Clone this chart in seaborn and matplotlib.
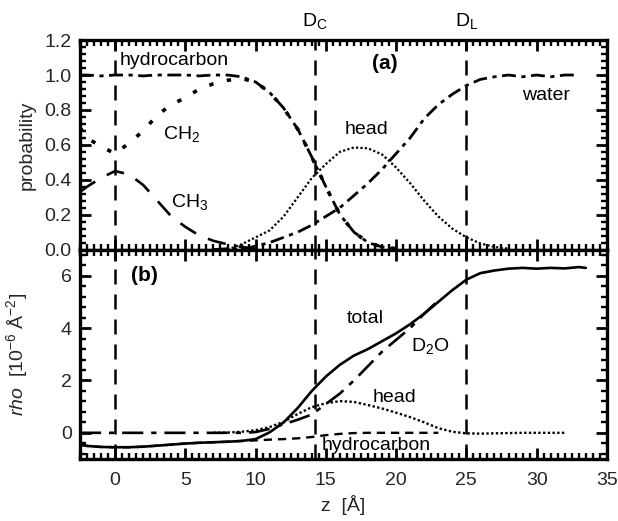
import matplotlib
matplotlib.use("Agg")
import matplotlib.pyplot as plt
from matplotlib.ticker import MultipleLocator, FormatStrFormatter
import seaborn as sns
import pandas as pd

# ---- panel (a): probability profiles ----
z_hc = [-2.5, -2, -1, 0, 1, 2, 3, 4, 5, 6, 7, 8, 9, 10, 11, 12, 13, 14, 15, 16, 17, 18, 19, 20]
p_hc = [1.0, 1.0, 0.995, 1.0, 1.0, 0.995, 1.0, 1.0, 1.0, 0.995, 1.0, 1.0, 0.99, 0.96, 0.9,
        0.81, 0.69, 0.53, 0.36, 0.2, 0.1, 0.04, 0.015, 0.005]
z_ch2 = [-2.5, -2, -1, 0, 1, 2, 3, 4, 5, 6, 7, 8, 9, 10, 11, 12, 13, 14, 15, 16, 17, 18, 19, 20]
p_ch2 = [0.70, 0.64, 0.59, 0.55, 0.61, 0.68, 0.77, 0.83, 0.87, 0.92, 0.95, 0.97, 0.98, 0.96,
         0.9, 0.81, 0.69, 0.53, 0.36, 0.2, 0.1, 0.04, 0.015, 0.005]
z_ch3 = [-2.5, -2, -1, 0, 1, 2, 3, 4, 5, 6, 7, 8, 9, 10, 11]
p_ch3 = [0.33, 0.36, 0.41, 0.45, 0.43, 0.37, 0.28, 0.19, 0.13, 0.08, 0.05, 0.03, 0.015, 0.005, 0.0]
z_head_a = [8, 9, 10, 11, 12, 13, 14, 15, 16, 17, 18, 19, 20, 21, 22, 23, 24, 25, 26, 27, 28]
p_head_a = [0.0, 0.03, 0.07, 0.11, 0.19, 0.3, 0.41, 0.49, 0.56, 0.585, 0.58, 0.545, 0.47,
            0.38, 0.28, 0.19, 0.12, 0.07, 0.035, 0.015, 0.005]
z_water = [7, 8, 9, 10, 11, 12, 13, 14, 15, 16, 17, 18, 19, 20, 21, 22, 23, 24, 25, 26, 27,
           28, 29, 30, 31, 32, 33]
p_water = [0.0, 0.005, 0.0, 0.02, 0.04, 0.07, 0.1, 0.14, 0.19, 0.24, 0.31, 0.38, 0.46, 0.55,
           0.64, 0.75, 0.83, 0.89, 0.94, 0.975, 0.99, 1.0, 0.99, 1.0, 0.99, 1.0, 1.0]

# ---- panel (b): scattering length density profiles ----
z_tot = [-2.5, -2, -1, 0, 1, 2, 3, 4, 5, 6, 7, 8, 9, 10, 11, 12, 13, 14, 15, 16, 17, 18,
         19, 20, 21, 22, 23, 24, 25, 26, 27, 28, 29, 30, 31, 32, 33, 33.5]
rho_tot = [-0.45, -0.5, -0.54, -0.55, -0.55, -0.53, -0.49, -0.45, -0.41, -0.38, -0.36, -0.34,
           -0.31, -0.24, 0.02, 0.4, 0.95, 1.6, 2.15, 2.6, 2.95, 3.2, 3.5, 3.8, 4.15, 4.55,
           5.0, 5.45, 5.85, 6.1, 6.2, 6.27, 6.3, 6.27, 6.3, 6.28, 6.33, 6.3]
z_d2o = [-2.5, -2, -1, 0, 1, 2, 3, 4, 5, 6, 7, 8, 9, 10, 11, 12, 13, 14, 15, 16, 17, 18,
         19, 20, 21, 22, 23]
rho_d2o = [0, 0, 0, 0, 0, 0, 0, 0, 0, 0, 0, 0, 0, 0.03, 0.15, 0.33, 0.5, 0.7, 1.1, 1.5, 2.0,
           2.55, 3.1, 3.55, 4.0, 4.55, 5.05]
z_head_b = [7, 8, 9, 10, 11, 12, 13, 14, 15, 16, 17, 18, 19, 20, 21, 22, 23, 24, 25, 26, 27,
            28, 29, 30, 31, 32]
rho_head_b = [0.0, 0.01, 0.04, 0.1, 0.22, 0.42, 0.72, 0.98, 1.13, 1.21, 1.18, 1.06, 0.93,
              0.77, 0.6, 0.4, 0.18, 0.04, -0.02, -0.03, -0.02, -0.01, 0.0, 0.0, 0.0, 0.0]
z_hc_b = [-2.5, -2, -1, 0, 1, 2, 3, 4, 5, 6, 7, 8, 9, 10, 11, 12, 13, 14, 15, 16, 17, 18,
          19, 20, 21, 22, 23]
rho_hc_b = [-0.45, -0.5, -0.54, -0.55, -0.55, -0.53, -0.49, -0.45, -0.41, -0.38, -0.36,
            -0.34, -0.31, -0.29, -0.26, -0.24, -0.21, -0.16, -0.09, -0.04, -0.01, 0.0, 0.0,
            0.0, 0.0, 0.0, 0.0]

# characteristic depths
boundaries = [0.0, 14.2, 25.0]
D_C, D_L = 14.2, 25.0

sns.set_theme(style="ticks")
plt.rcParams.update({
    "font.family": ["Liberation Sans", "DejaVu Sans"],
    "mathtext.fontset": "custom",
    "mathtext.rm": "Liberation Sans",
    "mathtext.it": "Liberation Sans:italic",
    "mathtext.bf": "Liberation Sans:bold",
    "axes.linewidth": 2.4,
    "axes.edgecolor": "black",
    "axes.unicode_minus": False,
    "text.color": "black",
})

fig, (ax1, ax2) = plt.subplots(2, 1, figsize=(6.18, 5.21), dpi=100, sharex=True)
fig.subplots_adjust(left=0.1294, right=0.982, top=0.923, bottom=0.119, hspace=0)

k = dict(color="black", legend=False, estimator=None, sort=False)

def draw(ax, x, y, ls, lw):
    df = pd.DataFrame({"z": x, "v": y})
    sns.lineplot(data=df, x="z", y="v", ax=ax, linestyle=ls, linewidth=lw, **k)

# panel (a)
draw(ax1, z_ch3, p_ch3, (0, (7, 5)), 1.9)
draw(ax1, z_ch2, p_ch2, (0, (1.2, 3.8)), 2.6)
draw(ax1, z_head_a, p_head_a, (0, (1, 1)), 1.6)
draw(ax1, z_water, p_water, (0, (5, 2, 1.5, 2)), 2.0)
draw(ax1, z_hc, p_hc, (0, (5, 2, 1.5, 2)), 2.0)

# panel (b)
draw(ax2, z_hc_b, rho_hc_b, (0, (3.5, 2.5)), 1.7)
draw(ax2, z_d2o, rho_d2o, (0, (8, 3, 2, 3)), 1.9)
draw(ax2, z_head_b, rho_head_b, (0, (1, 1)), 1.7)
draw(ax2, z_tot, rho_tot, "-", 1.9)

ax1.set_ylim(0, 1.2)
ax2.set_ylim(-1, 7)

for ax in (ax1, ax2):
    for xb in boundaries:
        ax.axvline(xb, color="black", linestyle=(0, (6, 4)), linewidth=1.8, zorder=1)
    ax.set_xlim(-2.5, 35)
    ax.set_xlabel("")
    ax.set_ylabel("")

ax1.yaxis.set_major_locator(MultipleLocator(0.2))
ax1.yaxis.set_minor_locator(MultipleLocator(0.04))
ax1.yaxis.set_major_formatter(FormatStrFormatter("%.1f"))
ax2.yaxis.set_major_locator(MultipleLocator(2))
ax2.yaxis.set_minor_locator(MultipleLocator(0.4))

# inward ruler-style ticks on every side of both panels
for ax in (ax1, ax2):
    ax.xaxis.set_major_locator(MultipleLocator(5))
    ax.xaxis.set_minor_locator(MultipleLocator(0.5))
    ax.tick_params(axis="both", which="both", direction="in", top=True, right=True,
                   bottom=True, left=True, color="black")
    ax.tick_params(axis="both", which="major", length=8, width=2.0, labelsize=14, pad=6)
    ax.tick_params(axis="both", which="minor", length=4.5, width=1.7)

ax1.tick_params(labelbottom=False)
ax2.tick_params(axis="x", which="major", pad=9)

fs = 14
ax1.set_ylabel("probability", fontsize=fs, labelpad=6)
ax2.set_ylabel(r"$\it{rho}$  [10$^{-6}$ Å$^{-2}$]", fontsize=fs, labelpad=10)
ax2.set_xlabel("z  [Å]", fontsize=fs, labelpad=5)
fig.align_ylabels([ax1, ax2])

# panel (a) annotations
ax1.text(0.35, 1.085, "hydrocarbon", fontsize=fs, va="center", ha="left")
ax1.text(4.75, 0.66, r"CH$_2$", fontsize=fs, va="center", ha="center")
ax1.text(5.3, 0.27, r"CH$_3$", fontsize=fs, va="center", ha="center")
ax1.text(17.9, 0.69, "head", fontsize=fs, va="center", ha="center")
ax1.text(30.7, 0.88, "water", fontsize=fs, va="center", ha="center")
ax1.text(19.2, 1.065, "(a)", fontsize=15, fontweight="bold", va="center", ha="center")
ax1.text(D_C, 1.31, r"D$_\mathrm{C}$", fontsize=fs, va="center", ha="center", clip_on=False)
ax1.text(D_L, 1.31, r"D$_\mathrm{L}$", fontsize=fs, va="center", ha="center", clip_on=False)

# panel (b) annotations
ax2.text(2.1, 6.0, "(b)", fontsize=15, fontweight="bold", va="center", ha="center")
ax2.text(17.8, 4.35, "total", fontsize=fs, va="center", ha="center")
ax2.text(22.4, 3.3, r"D$_2$O", fontsize=fs, va="center", ha="center")
ax2.text(19.9, 1.35, "head", fontsize=fs, va="center", ha="center")
ax2.text(18.6, -0.5, "hydrocarbon", fontsize=fs, va="center", ha="center")

fig.savefig("out.png", dpi=100)
